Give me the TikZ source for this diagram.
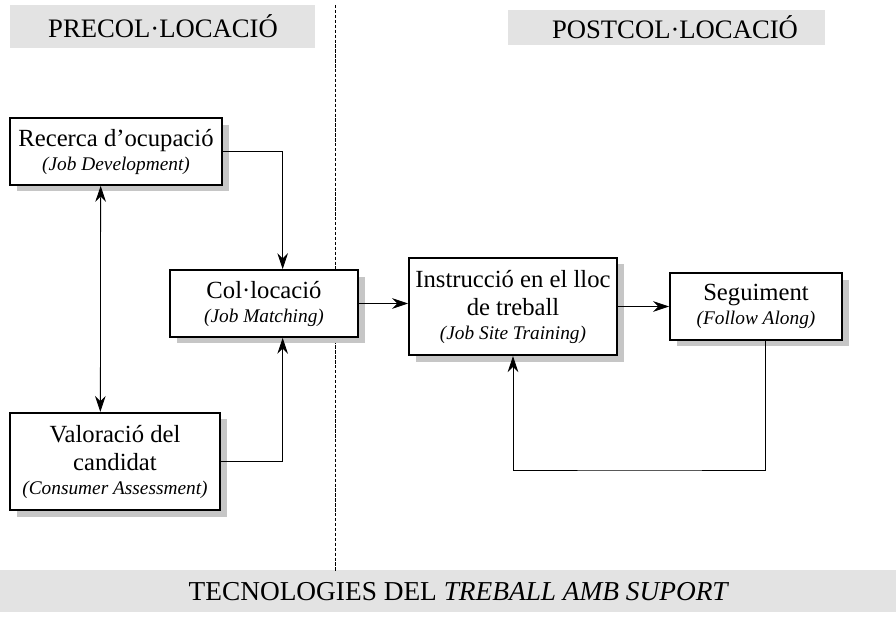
\documentclass[tikz,border=0pt]{standalone}
\usepackage{fontspec}
\setmainfont{Liberation Serif}
\usetikzlibrary{arrows.meta,shadows}

\newcommand{\bigtxt}{\fontsize{18.5}{21}\selectfont}
\newcommand{\subtxt}{\fontsize{14.5}{18}\selectfont\itshape}
\tikzset{
  box/.style={draw, line width=1.5pt, fill=white, align=center, inner sep=2pt, font=\bigtxt,
    drop shadow={shadow xshift=5pt, shadow yshift=-5pt, fill=gray!45, opacity=1}},
  band/.style={fill=gray!22, draw=none},
  tip/.tip={Stealth[length=12pt, width=8pt, inset=4pt]},
  arr/.style={line width=0.6pt, -tip},
  darr/.style={line width=0.6pt, tip-tip},
}

\begin{document}
\begin{tikzpicture}[x=0.75pt,y=0.75pt,yscale=-1,xscale=1]
\useasboundingbox (0,0) rectangle (896,623);

%Shape: Header bands
\fill[band] (10,5) rectangle (315,48);
\fill[band] (508,10) rectangle (825,45);
\fill[band] (0,570) rectangle (896,612);

%Straight Lines: divider
\draw[line width=0.6pt, dash pattern=on 2.5pt off 1.2pt] (335,5) -- (335,572);

% Text Node
\node (pre) at (163,26) {\fontsize{20}{22}\selectfont PRECOL·LOCACIÓ};
% Text Node
\node (post) at (675,27) {\fontsize{20}{22}\selectfont POSTCOL·LOCACIÓ};
% Text Node
\node (tec) at (459,592) {\fontsize{20.5}{22}\selectfont TECNOLOGIES DEL \textit{TREBALL AMB SUPORT}};

%Shape: Boxes
\node[box, minimum width=159pt, minimum height=50pt] (rec) at (116,151.5)
  {Recerca d’ocupació\\[-3pt]{\subtxt (Job Development)}};
\node[box, minimum width=157.5pt, minimum height=73pt] (val) at (115,461.5)
  {Valoració del\\candidat\\[-3pt]{\subtxt (Consumer Assessment)}};
\node[box, minimum width=141pt, minimum height=50pt] (col) at (264,303.5)
  {Col·locació\\[-3pt]{\subtxt (Job Matching)}};
\node[box, minimum width=156pt, minimum height=73pt] (ins) at (513,306.5)
  {Instrucció en el lloc\\de treball\\[-3pt]{\subtxt (Job Site Training)}};
\node[box, minimum width=129pt, minimum height=50pt] (seg) at (756,306.5)
  {Seguiment\\[-3pt]{\subtxt (Follow Along)}};

\coordinate (fb) at (640,470);

%Straight Lines: connectors
\draw[arr] (rec.east) -| ([xshift=14pt]col.north);
\draw[arr] (val.east) -| ([xshift=14pt]col.south);
\draw[darr] ([xshift=-11.5pt]rec.south) -- ([xshift=-11pt]val.north);
\draw[arr] (col.east) -- (col.east -| ins.west);
\draw[arr] (ins.east) -- (seg.west);
\draw[arr] ([xshift=7pt]seg.south) |- (fb) -| (ins.south);

\end{tikzpicture}
\end{document}
